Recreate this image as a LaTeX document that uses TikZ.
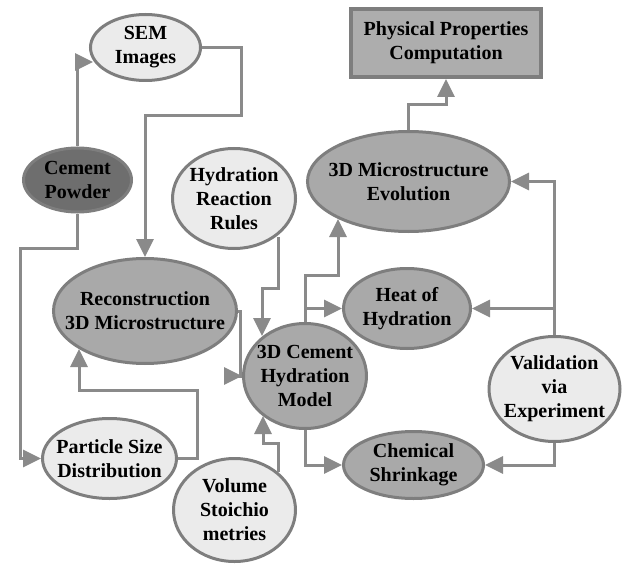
\documentclass[tikz,border=0pt]{standalone}
\usepackage{fontspec}
\setmainfont{Liberation Serif}
\usetikzlibrary{shapes.geometric,arrows.meta,calc}
\definecolor{lightfill}{HTML}{EBEBEB}
\definecolor{midfill}{HTML}{A9A9A9}
\definecolor{darkfill}{HTML}{6E6E6E}
\definecolor{rectfill}{HTML}{ADADAD}
\definecolor{edgegray}{HTML}{7E7E7E}
\definecolor{linegray}{HTML}{8A8A8A}
\begin{document}
\begin{tikzpicture}[x=1pt,y=-1pt,
  blob/.style={ellipse, draw=edgegray, line width=3pt, inner sep=0pt},
  lightb/.style={blob, fill=lightfill},
  midb/.style={blob, fill=midfill},
  darkb/.style={blob, fill=darkfill},
  rectb/.style={rectangle, draw=edgegray, line width=4pt, fill=rectfill, minimum width=190pt, minimum height=68pt, inner sep=0pt},
  lbl/.style={align=center, font=\bfseries\fontsize{20}{24}\selectfont, inner sep=0pt},
  conn/.style={draw=linegray, line width=3pt},
  arr/.style={conn, -{Triangle[length=18pt,width=17pt]}}
]
\useasboundingbox (0,0) rectangle (623,564);
% shapes
\node[lightb, minimum width=110pt, minimum height=66pt] (sem) at (145.5,47.5) {};
\node[darkb, minimum width=108pt, minimum height=64pt] (cement) at (77.5,180) {};
\node[lightb, minimum width=123pt, minimum height=100pt] (hrr) at (234,198.5) {};
\node[midb, minimum width=183pt, minimum height=105pt] (recon) at (145,311) {};
\node[midb, minimum width=123pt, minimum height=105pt] (model) at (305,376) {};
\node[midb, minimum width=202pt, minimum height=100pt] (evo) at (408.5,181.5) {};
\node[rectb] (phys) at (446,43) {};
\node[midb, minimum width=127pt, minimum height=80pt] (heat) at (407,308.5) {};
\node[lightb, minimum width=131pt, minimum height=105pt] (val) at (554.5,389) {};
\node[midb, minimum width=140pt, minimum height=67pt] (chem) at (413.5,465) {};
\node[lightb, minimum width=134pt, minimum height=80pt] (psd) at (109.5,458.5) {};
\node[lightb, minimum width=122pt, minimum height=103pt] (vol) at (234.5,510) {};
% labels
\node[lbl] (sem-t) at (sem) {SEM\\Images};
\node[lbl] (cement-t) at (cement) {Cement\\Powder};
\node[lbl] (hrr-t) at (hrr) {Hydration\\Reaction\\Rules};
\node[lbl] (recon-t) at (recon) {Reconstruction\\3D Microstructure};
\node[lbl] (model-t) at (model) {3D Cement\\Hydration\\Model};
\node[lbl] (evo-t) at (evo) {3D Microstructure\\Evolution};
\node[lbl] (phys-t) at (phys) {Physical Properties\\Computation};
\node[lbl] (heat-t) at (heat) {Heat of\\Hydration};
\node[lbl] (val-t) at (val) {Validation\\via\\Experiment};
\node[lbl] (chem-t) at (chem) {Chemical\\Shrinkage};
\node[lbl] (psd-t) at (psd) {Particle Size\\Distribution};
\node[lbl] (vol-t) at (vol) {Volume\\Stoichio\\metries};
% connectors
\draw[arr] (cement.north) |- ($(sem.west)+(4,14.5)$);
\draw[arr] (sem.east) -- ++(39,0) -- ++(0,68) -| (recon.north);
\draw[arr] (cement.south) -- ++(0,35) -| ($(psd.west)+(-21,0)$) -- (psd.west);
\draw[arr] (psd.east) -- ++(19,0) -- ++(0,-68) -| ($(recon.south)+(-66,-16)$);
\draw[arr] (recon.east) -- ++(2,0) |- (model.west);
\draw[arr] ($(hrr.south)+(44,-13)$) -- ++(0,51) -| ($(model.north)+(-43,14)$);
\draw[arr] (model.north) -- ++(0,-47) -| ($(evo.south)+(-70.5,-14)$);
\draw[arr] (model.north |- heat.west) -- (heat.west);
\draw[arr] (model.south) |- (chem.west);
\draw[arr] (evo.north) -- ++(0,-25) -| (phys.south);
\draw[arr] (val.north) |- (evo.east);
\draw[arr] (val.north |- heat.east) -- (heat.east);
\draw[arr] (val.south) |- (chem.east);
\draw[arr] ($(vol.north)+(43.5,15)$) -- ++(0,-29) -| ($(model.south)+(-42,-14)$);
\end{tikzpicture}
\end{document}
